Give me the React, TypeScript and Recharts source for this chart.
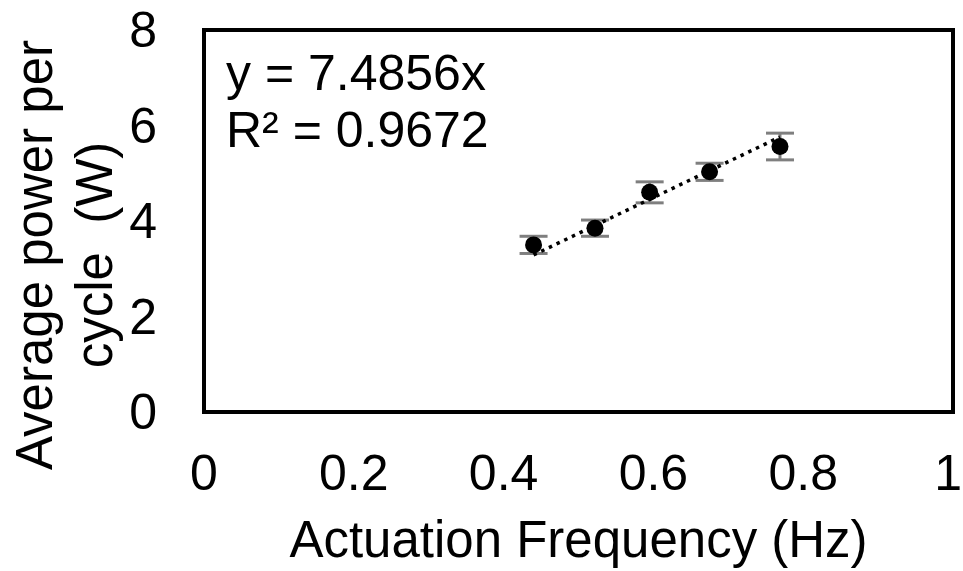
import { ScatterChart, Scatter, XAxis, YAxis, ErrorBar, ReferenceArea, Label } from "recharts";

const frequency = [0.44, 0.522, 0.595, 0.675, 0.769];
const power = [3.5, 3.85, 4.6, 5.03, 5.56];
const powerErr = [0.18, 0.17, 0.22, 0.18, 0.28];

const trendX = [0.44, 0.769];
const trendY = [3.29, 5.76];

const xTicks = [0, 0.2, 0.4, 0.6, 0.8, 1];
const yTicks = [0, 2, 4, 6, 8];

const FONT = '"Liberation Sans", Arial, sans-serif';

const points = frequency.map((f, i) => ({ x: f, y: power[i], err: powerErr[i] }));
const trend = trendX.map((x, i) => ({ x, y: trendY[i] }));

// last tick sits on the right edge, anchor it at its end so it stays inside
const XTick = ({ x, y, payload, index }: any) => {
    const last = index === xTicks.length - 1;
    return (
        <text
            x={last ? x + 9 : x}
            y={y}
            textAnchor={last ? "end" : "middle"}
            fontSize={50}
            fontFamily={FONT}
            fill="#000"
        >
            {payload.value}
        </text>
    );
};

const YTick = ({ x, y, payload }: any) => (
    <text x={x} y={y} dy={17} textAnchor="end" fontSize={50} fontFamily={FONT} fill="#000">
        {payload.value}
    </text>
);

const Dot = ({ cx, cy }: any) => <circle cx={cx} cy={cy} r={8.5} fill="#000" />;

export default function App() {
    return (
        <div style={{ position: "absolute", left: 0, top: 0 }}>
            <ScatterChart width={963} height={571} margin={{ top: 30, right: 10, bottom: 0, left: 0 }}>
                <XAxis
                    type="number"
                    dataKey="x"
                    domain={[0, 1]}
                    ticks={xTicks}
                    height={159}
                    axisLine={false}
                    tickLine={false}
                    tickSize={0}
                    tickMargin={78}
                    tick={<XTick />}
                >
                    <Label
                        content={({ viewBox }: any) => (
                            <text
                                x={viewBox.x + viewBox.width / 2}
                                y={557}
                                textAnchor="middle"
                                fontSize={51}
                                fontFamily={FONT}
                                fill="#000"
                            >
                                Actuation Frequency (Hz)
                            </text>
                        )}
                    />
                </XAxis>
                <YAxis
                    type="number"
                    dataKey="y"
                    domain={[0, 8]}
                    ticks={yTicks}
                    width={204}
                    axisLine={false}
                    tickLine={false}
                    tickSize={0}
                    tickMargin={47}
                    tick={<YTick />}
                >
                    <Label
                        content={() => (
                            <text
                                transform="translate(0,255) rotate(-90)"
                                textAnchor="middle"
                                fontSize={51}
                                fontFamily={FONT}
                                fill="#000"
                                style={{ whiteSpace: "pre" }}
                            >
                                <tspan x={0} y={52}>Average power per</tspan>
                                <tspan x={0} y={112}>cycle  (W)</tspan>
                            </text>
                        )}
                    />
                </YAxis>
                <ReferenceArea
                    x1={0}
                    x2={1}
                    y1={0}
                    y2={8}
                    fill="none"
                    stroke="#000"
                    strokeWidth={4}
                    label={({ viewBox }: any) => (
                        <text x={viewBox.x + 22} fontSize={50} fontFamily={FONT} fill="#000">
                            <tspan x={viewBox.x + 22} y={viewBox.y + 60}>y = 7.4856x</tspan>
                            <tspan x={viewBox.x + 22} y={viewBox.y + 117}>R² = 0.9672</tspan>
                        </text>
                    )}
                />
                <Scatter
                    data={trend}
                    line={{ stroke: "#000", strokeWidth: 3.5, strokeDasharray: "3.5 5" }}
                    shape={() => null}
                    isAnimationActive={false}
                />
                <Scatter data={points} shape={<Dot />} isAnimationActive={false}>
                    <ErrorBar dataKey="err" direction="y" width={14} strokeWidth={3} stroke="#7f7f7f" />
                </Scatter>
            </ScatterChart>
        </div>
    );
}
